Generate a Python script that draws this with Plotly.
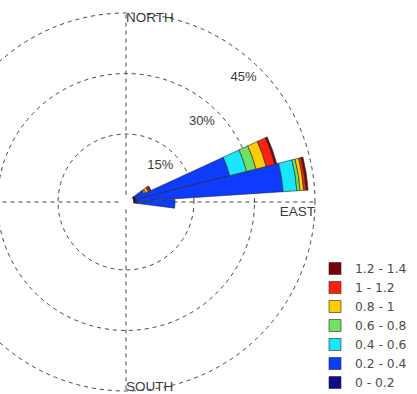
import plotly.graph_objects as go

# Wind-speed classes (legend labels) and their fill colours
speed_bins = ["0 - 0.2", "0.2 - 0.4", "0.4 - 0.6", "0.6 - 0.8", "0.8 - 1", "1 - 1.2", "1.2 - 1.4"]
bin_colors = ["#0c0c8a", "#0d3cff", "#18e6fa", "#72e062", "#ffcc00", "#ff2210", "#7a0008"]

# Sector directions (compass degrees) and frequency (%) of each speed class per sector
directions = [59.5, 70.5, 81.0, 92.0]
freq = {
    "0 - 0.2":   [0.6, 0.8, 0.8, 0.8],
    "0.2 - 0.4": [2.4, 23.9, 36.4, 9.5],
    "0.4 - 0.6": [0.3, 4.3, 3.4, 0.0],
    "0.6 - 0.8": [0.3, 2.4, 0.8, 0.0],
    "0.8 - 1":   [0.6, 2.6, 0.9, 0.0],
    "1 - 1.2":   [0.5, 2.2, 0.6, 0.0],
    "1.2 - 1.4": [0.3, 0.5, 0.5, 0.0],
}
sector_width = 10.5

# Radial rings and compass labels
ring_values = [15, 30, 45]
ring_labels = ["15%", "30%", "45%"]
compass_labels = ["NORTH", "EAST", "SOUTH"]

label_font = "Arial, Liberation Sans, sans-serif"

fig = go.Figure()

for name, color in zip(speed_bins, bin_colors):
    fig.add_trace(go.Barpolar(
        r=freq[name],
        theta=directions,
        width=[sector_width] * len(directions),
        name=name,
        marker=dict(color=color, line=dict(color="#262626", width=0.6)),
    ))

# Ring percentage labels, placed just inside each ring
fig.add_trace(go.Scatterpolar(
    r=[v - 4.5 for v in ring_values],
    theta=[43.5] * len(ring_values),
    text=ring_labels,
    mode="text",
    textposition="middle center",
    textfont=dict(family=label_font, size=13, color="#3a3a3a"),
    showlegend=False,
    hoverinfo="skip",
))

# Compass point labels
fig.add_trace(go.Scatterpolar(
    r=[43.6, 45.0, 44.1],
    theta=[0, 91.3, 180],
    text=compass_labels,
    mode="text",
    textposition=["middle right", "bottom left", "middle right"],
    textfont=dict(family=label_font, size=13.5, color="#3a3a3a"),
    showlegend=False,
    hoverinfo="skip",
))

# Figure canvas is a little larger than the visible view; the page shows a 417x394 window of it
VIEW_W, VIEW_H = 417, 394
SHIFT = 70
W, H = VIEW_W + SHIFT, 410
cx, cy, R = 126 + SHIFT, 202, 190.2

fig.update_layout(
    width=W,
    height=H,
    margin=dict(l=0, r=0, t=0, b=0),
    paper_bgcolor="white",
    showlegend=True,
    legend=dict(
        x=(315 + SHIFT) / W, y=1 - 254 / H,
        xanchor="left", yanchor="top",
        traceorder="reversed",
        font=dict(family="DejaVu Sans", size=12.3, color="#4a4a4a"),
        bgcolor="rgba(0,0,0,0)",
    ),
    polar=dict(
        domain=dict(x=[(cx - R) / W, (cx + R) / W], y=[(H - cy - R) / H, (H - cy + R) / H]),
        bgcolor="white",
        hole=0.039,
        barmode="stack",
        radialaxis=dict(
            range=[0, 45.3],
            tickvals=ring_values,
            showticklabels=False,
            ticks="",
            showline=False,
            gridcolor="#444444",
            gridwidth=1,
            griddash="4px,4px",
        ),
        angularaxis=dict(
            rotation=90,
            direction="clockwise",
            tickvals=[0, 90, 180, 270],
            showticklabels=False,
            ticks="",
            showline=False,
            gridcolor="#444444",
            gridwidth=1,
            griddash="4px,4px",
        ),
    ),
)

view_js = (
    "var gd=document.getElementById('{plot_id}');"
    "var box=gd.parentElement;"
    "box.style.width='%dpx';box.style.height='%dpx';box.style.overflow='hidden';"
    "gd.style.marginLeft='-%dpx';"
    "document.body.style.margin='0';"
    "document.body.style.overflow='hidden';" % (VIEW_W, VIEW_H, SHIFT)
)

fig.write_html("out.html", post_script=view_js)
